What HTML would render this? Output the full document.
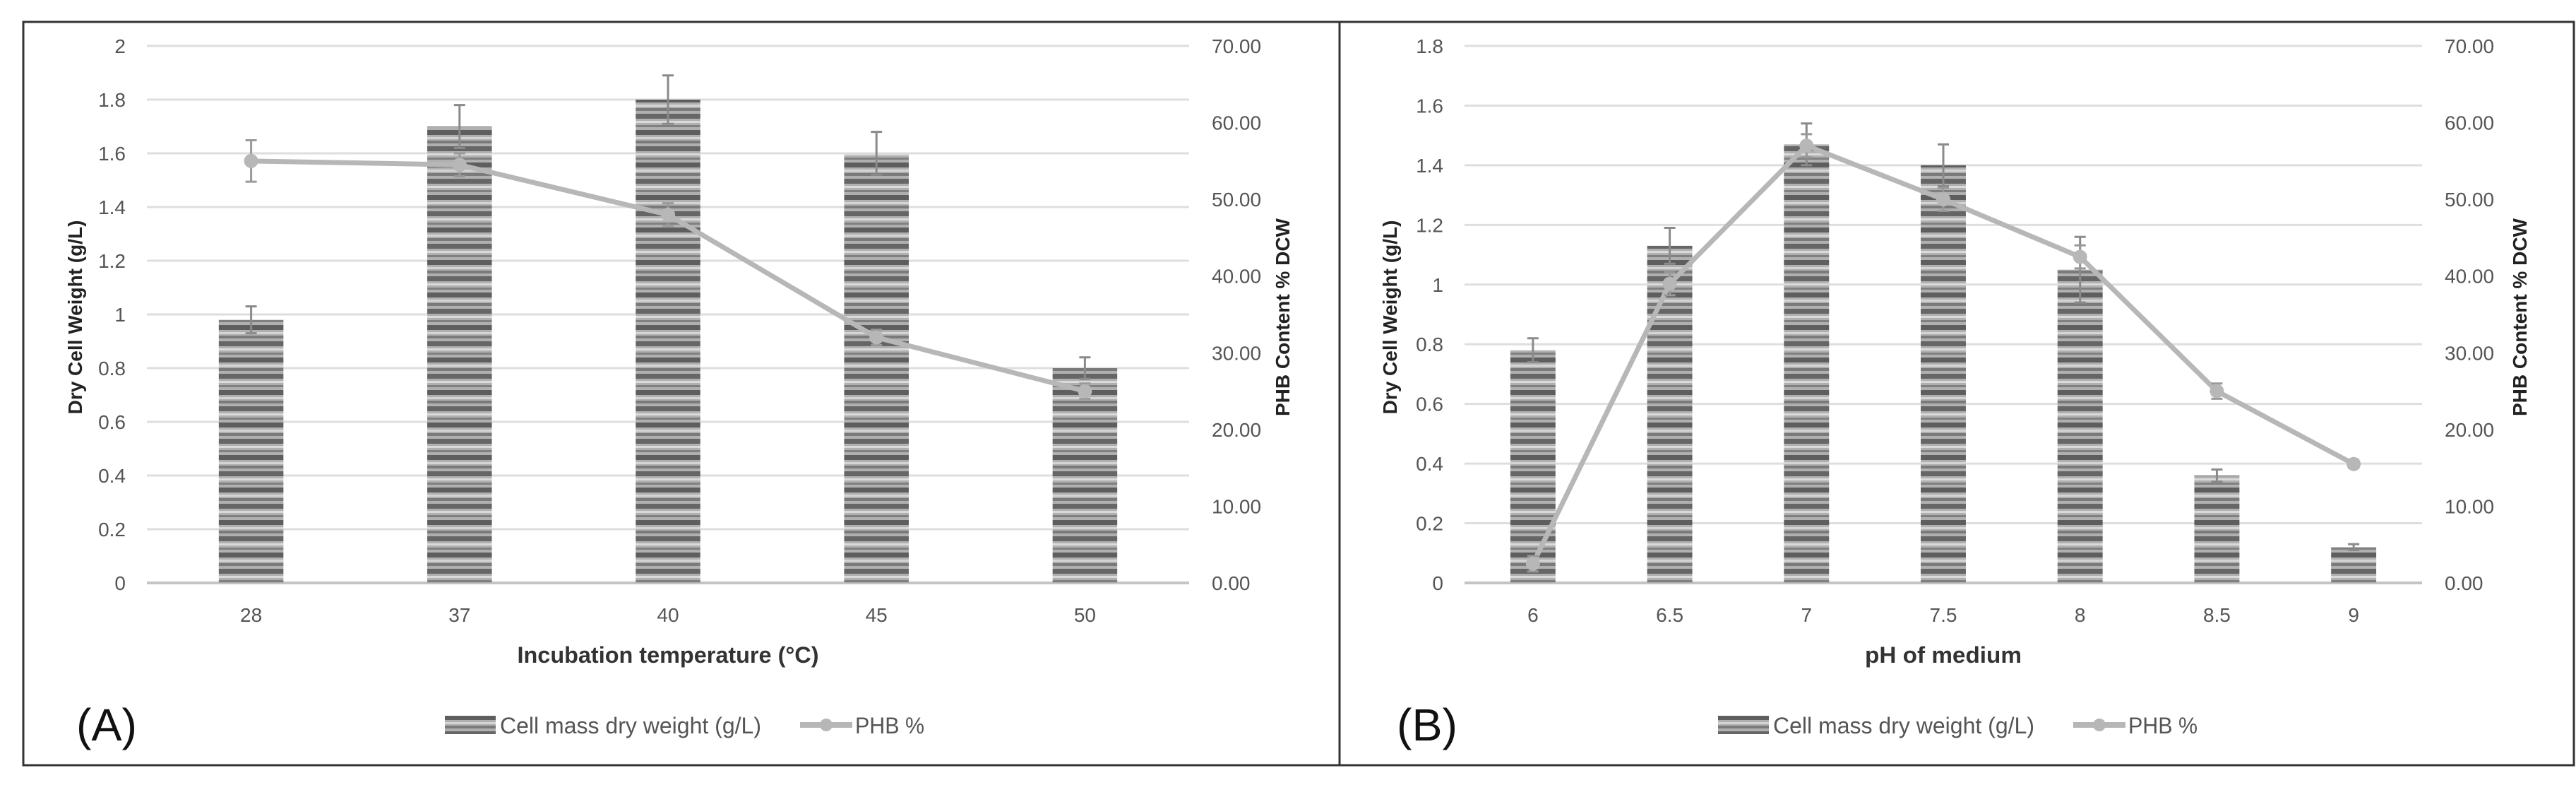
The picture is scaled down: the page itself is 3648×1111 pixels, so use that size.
<!DOCTYPE html>
<html><head><meta charset="utf-8">
<style>
html,body{margin:0;padding:0;background:#fff;}
svg{display:block;font-family:"Liberation Sans",sans-serif;}
</style></head>
<body>
<svg id="chart" width="3648" height="1111" viewBox="0 0 3648 1111" xmlns="http://www.w3.org/2000/svg">
<defs>
<pattern id="stripes" patternUnits="userSpaceOnUse" width="20" height="46">
<rect width="20" height="46" fill="#b0b0b0"/>
<rect y="0" width="20" height="7" fill="#5e5e5e"/>
<rect y="10" width="20" height="3" fill="#d4d4d4"/>
<rect y="15" width="20" height="4" fill="#7a7a7a"/>
<rect y="23" width="20" height="7" fill="#666"/>
<rect y="33" width="20" height="3" fill="#dadada"/>
<rect y="39" width="20" height="3" fill="#808080"/>
</pattern>
</defs>
<rect x="33" y="31" width="3612" height="1052" fill="none" stroke="#333" stroke-width="3"/>
<line x1="1897" y1="31" x2="1897" y2="1083" stroke="#333" stroke-width="3"/>
</svg>
<script>
// Panel A data
const catsA = ["28","37","40","45","50"];
const barsA = [0.98,1.70,1.80,1.60,0.80];
const barErrA = [0.05,0.08,0.09,0.08,0.04];
const phbA = [55.0,54.5,48.0,32.0,25.0];
const phbErrA = [2.7,1.5,1.5,1.0,1.0];
const leftTicksA = ["0","0.2","0.4","0.6","0.8","1","1.2","1.4","1.6","1.8","2"];
// Panel B data
const catsB = ["6","6.5","7","7.5","8","8.5","9"];
const barsB = [0.78,1.13,1.47,1.40,1.05,0.36,0.12];
const barErrB = [0.04,0.06,0.07,0.07,0.11,0.02,0.01];
const phbB = [2.5,39.0,57.0,50.0,42.5,25.0,15.5];
const phbErrB = [1.0,1.5,1.5,1.5,1.5,1.0,0.5];
const leftTicksB = ["0","0.2","0.4","0.6","0.8","1","1.2","1.4","1.6","1.8"];
const rightTicks = ["0.00","10.00","20.00","30.00","40.00","50.00","60.00","70.00"];

const svg = document.getElementById('chart');
const NS = "http://www.w3.org/2000/svg";
function mk(tag, attrs, parent){const e=document.createElementNS(NS,tag);for(const k in attrs)e.setAttribute(k,attrs[k]);(parent||svg).appendChild(e);return e;}

function panel(p){
  const g = mk('g',{});
  
  
  const y0=825, y1=65;
  const yL = v => y0 - (v/p.lmax)*(y0-y1);
  const yR = v => y0 - (v/70)*(y0-y1);
  const band = (p.x1-p.x0)/p.cats.length;
  const xC = i => p.x0 + band*(i+0.5);
  p.lticks.forEach(t=>{
    const v=parseFloat(t), y=yL(v);
    const gl=mk('line',{x1:p.x0,x2:p.x1,y1:y,y2:y,stroke:v===0?'#c4c4c4':'#dedede','stroke-width':v===0?4:3},g);
    
    
    const tx=mk('text',{x:p.lx,y:y+10,'text-anchor':'end','font-size':28,fill:'#555'},g);
    tx.textContent=t;
    
    
  });
  rightTicks.forEach(t=>{
    const y=yR(parseFloat(t));
    const tx=mk('text',{x:p.rx,y:y+10,'font-size':28,fill:'#555'},g);
    tx.textContent=t;
    
    
  });
  p.bars.forEach((v,i)=>{
    const bw=band*p.bwf, x=xC(i)-bw/2, y=yL(v);
    const r=mk('rect',{x:x,y:y,width:bw,height:y0-y,fill:'url(#stripes)'},g);
    
    
    const yt=yL(v+p.berr[i]), yb=yL(v-p.berr[i]);
    const e=mk('path',{d:`M${xC(i)} ${yb}V${yt}M${xC(i)-8} ${yt}H${xC(i)+8}M${xC(i)-8} ${yb}H${xC(i)+8}`,stroke:'#8a8a8a','stroke-width':3,fill:'none'},g);
    
    
  });
  const pts=p.phb.map((v,i)=>xC(i)+','+yR(v)).join(' ');
  const pl=mk('polyline',{points:pts,fill:'none',stroke:'#b7b7b7','stroke-width':7,'stroke-linejoin':'round'},g);
  
  
  p.phb.forEach((v,i)=>{
    const yt=yR(v+p.perr[i]), yb=yR(v-p.perr[i]);
    const e=mk('path',{d:`M${xC(i)} ${yb}V${yt}M${xC(i)-8} ${yt}H${xC(i)+8}M${xC(i)-8} ${yb}H${xC(i)+8}`,stroke:'#999','stroke-width':3,fill:'none'},g);
    
    
    const c=mk('circle',{cx:xC(i),cy:yR(v),r:10,fill:'#b7b7b7'},g);
    
    
  });
  p.cats.forEach((c,i)=>{
    const tx=mk('text',{x:xC(i),y:880,'text-anchor':'middle','font-size':28,fill:'#555'},g);
    tx.textContent=c;
    
    
  });
  const xt=mk('text',{x:(p.x0+p.x1)/2,y:938,'text-anchor':'middle','font-size':32,'font-weight':'bold',fill:'#333',textLength:p.xtw,lengthAdjust:'spacingAndGlyphs'},g);
  xt.textContent=p.xtitle;
  
  
  const lt=mk('text',{x:p.ltx,y:449,'text-anchor':'middle','font-size':28,'font-weight':'bold',fill:'#222',transform:`rotate(-90 ${p.ltx} 449)`},g);
  lt.textContent='Dry Cell Weight (g/L)';
  
  
  const rt=mk('text',{x:p.rtx,y:449,'text-anchor':'middle','font-size':28,'font-weight':'bold',fill:'#222',transform:`rotate(-90 ${p.rtx} 449)`},g);
  rt.textContent='PHB Content % DCW';
  
  
  const pl2=mk('text',{x:p.labx,y:1048,'font-size':64,fill:'#111',textLength:86,lengthAdjust:'spacingAndGlyphs'},g);
  pl2.textContent=p.label;
  
  
  const sw=mk('rect',{x:p.legx,y:1013,width:72,height:26,fill:'url(#stripes)'},g);
  
  
  const l1=mk('text',{x:p.legx+78,y:1038,'font-size':32,fill:'#555',textLength:370,lengthAdjust:'spacingAndGlyphs'},g);
  l1.textContent='Cell mass dry weight (g/L)';
  
  
  const lx=p.legx+503;
  const ls=mk('line',{x1:lx,x2:lx+74,y1:1026,y2:1026,stroke:'#b7b7b7','stroke-width':8},g);
  
  
  const lc=mk('circle',{cx:lx+37,cy:1026,r:9,fill:'#b7b7b7'},g);
  
  
  const l2=mk('text',{x:lx+78,y:1038,'font-size':32,fill:'#555',textLength:98,lengthAdjust:'spacingAndGlyphs'},g);
  l2.textContent='PHB %';
  
  
}

panel({name:'panel-a-chart',x0:208,x1:1684,lmax:2,cats:catsA,bars:barsA,berr:barErrA,phb:phbA,perr:phbErrA,lticks:leftTicksA,
  lx:178,rx:1716,ltx:116,rtx:1826,bwf:0.31,xtitle:'Incubation temperature (°C)',xtw:427,label:'(A)',labx:108,legx:630});
panel({name:'panel-b-chart',x0:2074,x1:3430,lmax:1.8,cats:catsB,bars:barsB,berr:barErrB,phb:phbB,perr:phbErrB,lticks:leftTicksB,
  lx:2044,rx:3462,ltx:1978,rtx:3578,bwf:0.33,xtitle:'pH of medium',xtw:222,label:'(B)',labx:1978,legx:2433});
</script>
</body></html>
